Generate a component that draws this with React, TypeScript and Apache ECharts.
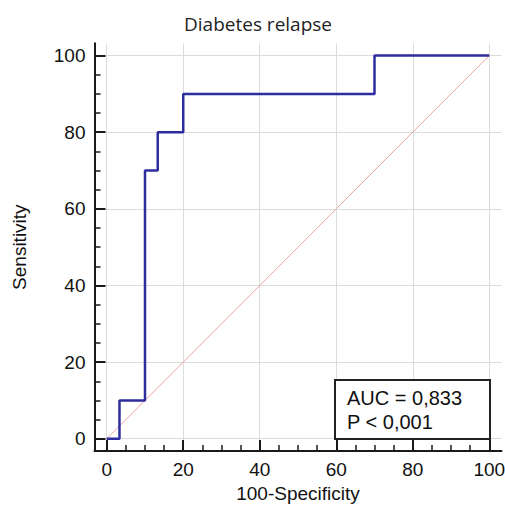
import React, { useEffect, useRef } from "react";
import * as echarts from "echarts";

// ROC curve points (100-Specificity, Sensitivity)
const fpr = [0, 3.33, 3.33, 10, 10, 13.33, 13.33, 20, 20, 70, 70, 100];
const tpr = [0, 0, 10, 10, 70, 70, 80, 80, 90, 90, 100, 100];
// Reference diagonal
const diagX = [0, 100];
const diagY = [0, 100];
// Tick values
const majorTicks = [0, 20, 40, 60, 80, 100];
const minorTicks = [5, 10, 15, 25, 30, 35, 45, 50, 55, 65, 70, 75, 85, 90, 95];
// Texts
const titleText = "Diabetes relapse";
const xName = "100-Specificity";
const yName = "Sensitivity";
const aucLines = ["AUC = 0,833", "P < 0,001"];

const AXIS_MIN = -3.2;
const AXIS_MAX = 103.2;
const LABEL_FONT = "'Liberation Sans', Arial, sans-serif";
const AXIS_COLOR = "#1a1a1a";

function majorAxis(pos: string, name: string, nameGap: number) {
  return {
    type: "value",
    min: AXIS_MIN,
    max: AXIS_MAX,
    position: pos,
    name,
    nameLocation: "middle",
    nameGap,
    nameTextStyle: { fontSize: 19, fontFamily: LABEL_FONT, color: "#111" },
    axisLine: { show: true, onZero: false, lineStyle: { color: AXIS_COLOR, width: 2 } },
    axisTick: {
      show: true,
      inside: true,
      length: 11,
      customValues: majorTicks,
      lineStyle: { color: AXIS_COLOR, width: 2 },
    },
    axisLabel: {
      show: true,
      customValues: majorTicks,
      margin: 9,
      fontSize: 19,
      fontFamily: LABEL_FONT,
      color: "#111",
    },
    splitLine: { show: true, lineStyle: { color: "#dcdcdc", width: 1 } },
  };
}

function minorAxis(pos: string) {
  return {
    type: "value",
    min: AXIS_MIN,
    max: AXIS_MAX,
    position: pos,
    axisLine: { show: false, onZero: false },
    axisTick: {
      show: true,
      inside: true,
      length: 6,
      customValues: minorTicks,
      lineStyle: { color: AXIS_COLOR, width: 1.5 },
    },
    axisLabel: { show: false },
    splitLine: { show: false },
  };
}

export default function App() {
  const ref = useRef<HTMLDivElement>(null);

  useEffect(() => {
    if (!ref.current) return;
    const chart = echarts.init(ref.current, null, { renderer: "svg" });
    const rocData = fpr.map((x, i) => [x, tpr[i]]);
    const diagData = diagX.map((x, i) => [x, diagY[i]]);
    chart.setOption({
      animation: false,
      backgroundColor: "#ffffff",
      grid: {
        left: 94.5,
        top: 43.3,
        right: 3.5,
        bottom: 59,
        containLabel: false,
        outerBoundsMode: "none",
      },
      xAxis: [majorAxis("bottom", xName, 31), minorAxis("bottom")],
      yAxis: [majorAxis("left", yName, 66), minorAxis("left")],
      series: [
        {
          type: "line",
          xAxisIndex: 0,
          yAxisIndex: 0,
          data: diagData,
          symbol: "none",
          lineStyle: { color: "#f0a3a3", width: 1 },
          z: 2,
        },
        {
          type: "line",
          xAxisIndex: 0,
          yAxisIndex: 0,
          data: rocData,
          symbol: "none",
          lineStyle: { color: "#2d2d9f", width: 2.5 },
          z: 3,
        },
      ],
      graphic: [
        {
          type: "text",
          x: 258,
          y: 24,
          style: {
            text: titleText,
            align: "center",
            verticalAlign: "middle",
            fontSize: 19,
            fontFamily: "'Open Sans', 'Noto Sans', sans-serif",
            fill: "#222",
          },
        },
        {
          type: "rect",
          shape: { x: 335, y: 380, width: 155, height: 59 },
          style: { fill: "#ffffff", stroke: "#222", lineWidth: 2 },
          z: 10,
        },
        {
          type: "text",
          x: 347,
          y: 398,
          z: 11,
          style: {
            text: aucLines[0],
            align: "left",
            verticalAlign: "middle",
            fontSize: 20,
            fontFamily: LABEL_FONT,
            fill: "#111",
          },
        },
        {
          type: "text",
          x: 347,
          y: 422,
          z: 11,
          style: {
            text: aucLines[1],
            align: "left",
            verticalAlign: "middle",
            fontSize: 20,
            fontFamily: LABEL_FONT,
            fill: "#111",
          },
        },
      ],
    });
    return () => chart.dispose();
  }, []);

  return (
    <div
      ref={ref}
      style={{ position: "fixed", left: 0, top: 0, width: 505, height: 510, background: "#fff" }}
    />
  );
}
